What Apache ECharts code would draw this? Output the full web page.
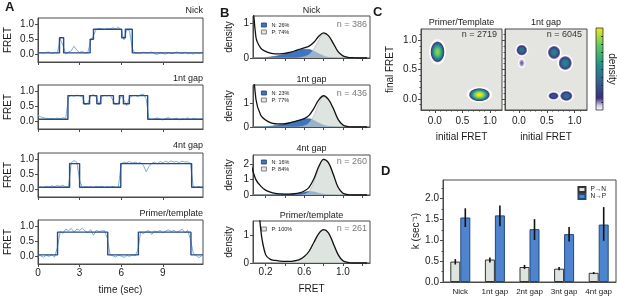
<!DOCTYPE html>
<html>
<head>
<meta charset="utf-8">
<script src="https://cdn.jsdelivr.net/npm/echarts@6/dist/echarts.min.js"></script>
<style>
  html, body { margin: 0; padding: 0; background: #fff; }
  #main { width: 617px; height: 297px; }
</style>
</head>
<body>
<div id="main"></div>
<script>
var FONT = '"Liberation Sans", Arial, sans-serif';
var FRAME = '#4a4a4a';
var INK = '#1a1a1a';

// ---- A: FRET traces ----
var traceTitles = ['Nick', '1nt gap', '4nt gap', 'Primer/template'];
var timeSec = [
  0, 0.2, 0.4, 0.6, 0.8, 1, 1.2, 1.4, 1.6, 1.8,
  2, 2.2, 2.4, 2.6, 2.8, 3, 3.2, 3.4, 3.6, 3.8,
  4, 4.2, 4.4, 4.6, 4.8, 5, 5.2, 5.4, 5.6, 5.8,
  6, 6.2, 6.4, 6.6, 6.8, 7, 7.2, 7.4, 7.6, 7.8,
  8, 8.2, 8.4, 8.6, 8.8, 9, 9.2, 9.4, 9.6, 9.8,
  10, 10.2, 10.4, 10.6, 10.8, 11, 11.2, 11.4, 11.6, 11.8
];
var rawNick = [
  0.05, 0.06, 0.04, 0.07, 0.08, 0.03, 0.06, 0.05, 0.52, 0.30,
  0.02, 0.08, 0.12, 0.27, 0.14, 0.06, 0.10, 0.04, 0.07, 0.45,
  0.62, 0.82, 0.86, 0.84, 0.82, 0.85, 0.84, 0.88, 0.83, 0.90,
  0.80, 0.48, 0.82, 0.78, 0.20, 0.03, 0.05, 0.04, 0.07, 0.05,
  0.06, 0.08, 0.02, 0.00, 0.05, 0.03, 0.01, 0.06, 0.02, 0.04,
  0.08, 0.05, 0.03, 0.07, 0.02, 0.05, 0.01, 0.06, 0.03, 0.05
];
var rawGap1 = [
  0.20, 0.15, 0.12, 0.10, 0.09, 0.10, 0.08, 0.11, 0.09, 0.12,
  0.10, 0.80, 0.86, 0.83, 0.87, 0.84, 0.82, 0.55, 0.60, 0.84,
  0.88, 0.80, 0.56, 0.82, 0.86, 0.84, 0.87, 0.70, 0.56, 0.60,
  0.86, 0.70, 0.52, 0.78, 0.84, 0.86, 0.82, 0.88, 0.90, 0.75,
  0.08, 0.06, 0.08, 0.12, 0.07, 0.05, 0.09, 0.13, 0.06, 0.08,
  0.11, 0.05, 0.09, 0.07, 0.12, 0.06, 0.10, 0.08, 0.07, 0.09
];
var rawGap4 = [
  0.05, 0.08, 0.06, 0.10, 0.07, 0.12, 0.09, 0.13, 0.10, 0.14,
  0.08, 0.10, 0.88, 0.95, 0.90, 0.30, 0.05, 0.10, 0.07, 0.09,
  0.06, 0.10, 0.08, 0.11, 0.06, 0.09, 0.07, 0.10, 0.06, 0.08,
  0.85, 0.90, 0.88, 0.92, 0.87, 0.90, 0.86, 0.89, 0.80, 0.58,
  0.75, 0.86, 0.90, 0.84, 0.92, 0.88, 0.93, 0.89, 0.94, 0.90,
  0.92, 0.88, 0.93, 0.90, 0.91, 0.85, 0.08, 0.06, 0.10, 0.05
];
var rawPT = [
  0.06, 0.02, -0.03, 0.04, 0.00, 0.05, -0.02, 0.30, 0.82, 0.76,
  0.90, 0.85, 0.92, 0.80, 0.90, 0.86, 0.93, 0.84, 0.78, 0.88,
  0.70, 0.86, 0.82, 0.84, 0.85, 0.60, 0.05, 0.02, -0.02, 0.04,
  0.01, -0.03, 0.03, 0.00, 0.05, 0.02, 0.20, 0.80, 0.75, 0.82,
  0.85, 0.72, 0.84, 0.80, 0.86, 0.78, 0.83, 0.88, 0.82, 0.86,
  0.80, 0.84, 0.90, 0.78, 0.86, 0.55, 0.10, 0.03, -0.04, 0.02
];
var rawTraces = [rawNick, rawGap1, rawGap4, rawPT];
// idealized (HMM) fit: level holds from each time to the next
var fitTimes = [
  [0, 1.55, 1.85, 3.76, 4.0, 6.04, 6.3, 6.8, 11.9],
  [0, 2.16, 3.28, 3.72, 4.24, 4.53, 5.44, 5.87, 6.16, 6.59, 7.91, 11.9],
  [0, 2.28, 3.0, 5.97, 11.08, 11.9],
  [0, 1.41, 5.03, 7.24, 11.03, 11.9]
];
var fitLevels = [
  [0.05, 0.55, 0.05, 0.5, 0.83, 0.55, 0.83, 0.05, 0.05],
  [0.07, 0.85, 0.58, 0.85, 0.58, 0.85, 0.58, 0.85, 0.58, 0.85, 0.07, 0.07],
  [0.07, 0.85, 0.07, 0.85, 0.07, 0.07],
  [0.05, 0.8, 0.05, 0.8, 0.05, 0.05]
];
var timeTicks = [0, 3, 6, 9];
var fretTicksA = [0, 0.5, 1];

// ---- B: FRET histograms ----
var histTitles = ['Nick', '1nt gap', '4nt gap', 'Primer/template'];
var histCounts = ['n = 386', 'n = 436', 'n = 260', 'n = 261'];
var fretGrid = [0.05, 0.1, 0.15, 0.2, 0.25, 0.3, 0.35, 0.4, 0.45, 0.5, 0.55, 0.6, 0.65,
  0.7, 0.75, 0.8, 0.85, 0.9, 0.95, 1, 1.05, 1.1, 1.15, 1.2, 1.25];
var histTotal = [
  [2.5, 0.6, 0.28, 0.19, 0.14, 0.12, 0.12, 0.13, 0.16, 0.2, 0.25, 0.29, 0.34, 0.45, 0.62, 0.72, 0.64, 0.42, 0.18, 0.06, 0.02, 0.01, 0, 0, 0],
  [4, 1.2, 0.5, 0.3, 0.19, 0.14, 0.13, 0.14, 0.18, 0.23, 0.29, 0.36, 0.5, 0.8, 1.16, 1.34, 1.18, 0.8, 0.33, 0.09, 0.02, 0, 0, 0, 0],
  [2.0, 1.0, 0.58, 0.32, 0.18, 0.1, 0.07, 0.06, 0.06, 0.08, 0.14, 0.26, 0.5, 1.05, 1.85, 2.32, 2.1, 1.35, 0.5, 0.12, 0.03, 0, 0, 0, 0],
  [6, 3.5, 1.2, 0.3, 0.13, 0.09, 0.07, 0.06, 0.06, 0.08, 0.12, 0.23, 0.42, 0.74, 1.05, 1.19, 1.08, 0.7, 0.3, 0.08, 0.02, 0, 0, 0, 0]
];
var histN = [
  [0, 0, 0, 0.01, 0.03, 0.05, 0.08, 0.11, 0.15, 0.19, 0.23, 0.25, 0.24, 0.19, 0.12, 0.06, 0.02, 0.005, 0, 0, 0, 0, 0, 0, 0],
  [0, 0, 0, 0.01, 0.03, 0.06, 0.1, 0.13, 0.18, 0.23, 0.29, 0.34, 0.35, 0.28, 0.17, 0.08, 0.03, 0.01, 0, 0, 0, 0, 0, 0, 0],
  [0, 0, 0, 0, 0, 0.02, 0.04, 0.05, 0.06, 0.08, 0.12, 0.18, 0.22, 0.2, 0.12, 0.05, 0.02, 0, 0, 0, 0, 0, 0, 0, 0],
  null
];
var histP = [
  [0, 0, 0, 0, 0, 0, 0, 0, 0, 0, 0.01, 0.04, 0.1, 0.26, 0.52, 0.69, 0.64, 0.42, 0.18, 0.06, 0.02, 0, 0, 0, 0],
  [0, 0, 0, 0, 0, 0, 0, 0, 0, 0, 0.01, 0.05, 0.17, 0.5, 1.0, 1.28, 1.16, 0.79, 0.33, 0.09, 0.02, 0, 0, 0, 0],
  [0, 0, 0, 0, 0, 0, 0, 0, 0, 0, 0, 0.04, 0.22, 0.85, 1.75, 2.28, 2.08, 1.34, 0.5, 0.12, 0.03, 0, 0, 0, 0],
  [0, 0, 0, 0, 0, 0, 0.01, 0.03, 0.05, 0.07, 0.11, 0.22, 0.41, 0.73, 1.04, 1.18, 1.07, 0.7, 0.3, 0.08, 0.02, 0, 0, 0, 0]
];
var histLegendN = ['N: 26%', 'N: 23%', 'N: 16%', null];
var histLegendP = ['P: 74%', 'P: 77%', 'P: 84%', 'P: 100%'];
var densityMax = [1.2, 1.8, 2.6, 1.5];
var densityTicks = [[0, 1], [0, 1], [0, 1, 2], [0, 1]];
var fretTicksB = [0.2, 0.4, 0.6, 0.8, 1.0, 1.2];
var fretLabelsB = [0.2, 0.6, 1.0];

// ---- C: transition density plots (blob centre x, y, peak density) ----
var tdpTitles = ['Primer/Template', '1nt gap'];
var tdpCounts = ['n = 2719', 'n = 6045'];
var ptBlobs = [[0.05, 0.80, 0.85], [0.81, 0.07, 1.0]];
var gapBlobs = [[0.05, 0.83, 0.42], [0.05, 0.61, 0.12], [0.63, 0.79, 0.48],
  [0.83, 0.61, 0.5], [0.62, 0.05, 0.3], [0.85, 0.05, 0.42]];
var tdpTicks = [0, 0.5, 1];
var tdpMinorTicks = [-0.1, 0.1, 0.2, 0.3, 0.4, 0.6, 0.7, 0.8, 0.9, 1.1];
var colorbarTicks = [0.1, 0.2, 0.3, 0.4, 0.5, 0.6, 0.7, 0.8, 0.9];

// ---- D: rates ----
var rateCats = ['Nick', '1nt gap', '2nt gap', '3nt gap', '4nt gap'];
var ratePN = [0.49, 0.54, 0.36, 0.32, 0.22];
var rateNP = [1.55, 1.60, 1.27, 1.15, 1.38];
var errPN = [[0.42, 0.55], [0.47, 0.59], [0.31, 0.41], [0.28, 0.36], [0.19, 0.24]];
var errNP = [[1.32, 1.77], [1.34, 1.84], [1.01, 1.51], [0.97, 1.32], [0.99, 1.80]];
var rateTicks = [0, 0.5, 1, 1.5, 2];
var rateMinorTicks = [0.25, 0.75, 1.25, 1.75, 2.25];

// layout / styling
var aTops = [18, 85, 153, 220];
var bTops = [16, 85, 155, 221];
var bHeights = [42, 42, 40, 42];
var ptShapes = [[18, 27], [27, 17]];
var gapShapes = [[14, 14], [8, 11], [16, 17], [17, 18], [14, 10], [16, 13]];
var densityColors = [[0, '#ffffff'], [0.06, '#cfc9e4'], [0.15, '#3b2d7f'], [0.35, '#33638d'],
  [0.55, '#21918c'], [0.78, '#5ec962'], [1, '#f4e61e']];

function fmt1(v) { return (+v).toFixed(1); }
function fmtInt(v) { return String(Math.round(v)); }
function zip(xs, ys) { return ys.map(function (y, i) { return [xs[i], y]; }); }

function rgb(h) {
  return [parseInt(h.substr(1, 2), 16), parseInt(h.substr(3, 2), 16), parseInt(h.substr(5, 2), 16)];
}
function densityColor(v) {
  v = Math.max(0, Math.min(1, v));
  for (var k = 1; k < densityColors.length; k++) {
    var a = densityColors[k - 1], b = densityColors[k];
    if (v <= b[0]) {
      var t = (v - a[0]) / (b[0] - a[0]), ca = rgb(a[1]), cb = rgb(b[1]);
      return 'rgb(' + ca.map(function (c, j) { return Math.round(c + (cb[j] - c) * t); }).join(',') + ')';
    }
  }
  return densityColors[densityColors.length - 1][1];
}
function blobFill(peak) {
  var stops = [];
  for (var k = 0; k <= 8; k++) {
    var r = k / 8;
    stops.push({ offset: r * 0.8, color: densityColor(peak * (1 - r * r)) });
  }
  stops.push({ offset: 0.9, color: 'rgba(255,255,255,0.75)' });
  stops.push({ offset: 1, color: 'rgba(255,255,255,0)' });
  return { type: 'radial', x: 0.5, y: 0.5, r: 0.5, colorStops: stops };
}

function boxGrid(g) {
  g.show = true;
  g.borderColor = FRAME;
  g.borderWidth = 1;
  g.containLabel = false;
  return g;
}
function valueAxis(g, min, max, ticks, labels, name, gap, fmt) {
  return {
    type: 'value', gridIndex: g, min: min, max: max,
    splitLine: { show: false },
    axisLine: { show: true, onZero: false, lineStyle: { color: FRAME, width: 1 } },
    axisTick: { show: true, customValues: ticks, length: 3, lineStyle: { color: FRAME } },
    axisLabel: labels ? { show: true, customValues: labels, formatter: fmt, fontSize: 10, color: INK, margin: 4 }
                      : { show: false },
    name: name, nameLocation: 'middle', nameGap: gap,
    nameTextStyle: { fontSize: 10, color: INK }
  };
}
function minorAxis(g, min, max, ticks, pos) {
  return {
    type: 'value', gridIndex: g, min: min, max: max, position: pos,
    splitLine: { show: false }, axisLine: { show: false, onZero: false },
    axisTick: { show: true, customValues: ticks, length: 1.5, lineStyle: { color: FRAME } },
    axisLabel: { show: false }
  };
}
function txt(x, y, s, size, align, extra) {
  var el = {
    type: 'text', x: x, y: y, silent: true,
    style: { text: s, font: size + 'px ' + FONT, fill: INK, align: align, verticalAlign: 'middle' }
  };
  for (var k in (extra || {})) el.style[k] = extra[k];
  return el;
}

var grids = [], xAxes = [], yAxes = [], series = [], legends = [], graphics = [];

// panel A
for (var i = 0; i < 4; i++) {
  grids.push(boxGrid({ left: 38, width: 165, top: aTops[i], height: 44 }));
  xAxes.push(valueAxis(i, 0, 11.9, timeTicks, i === 3 ? timeTicks : null, i === 3 ? 'time (sec)' : '', 21, fmtInt));
  yAxes.push(valueAxis(i, -0.25, 1.2, fretTicksA, fretTicksA, 'FRET', 25, fmt1));
  series.push({
    type: 'line', xAxisIndex: i, yAxisIndex: i, symbol: 'none', silent: true,
    data: zip(timeSec, rawTraces[i]),
    lineStyle: { color: '#6fa3dc', width: 0.9 }
  });
  series.push({
    type: 'line', xAxisIndex: i, yAxisIndex: i, symbol: 'none', silent: true, step: 'end',
    data: zip(fitTimes[i], fitLevels[i]),
    lineStyle: { color: '#2a4b80', width: 1.4 }, z: 3
  });
  graphics.push(txt(203, [11, 79, 146, 214][i], traceTitles[i], 9, 'right'));
}

// panel B
for (i = 0; i < 4; i++) {
  var g = 4 + i;
  grids.push(boxGrid({ left: 253, width: 117, top: bTops[i], height: bHeights[i] }));
  xAxes.push(valueAxis(g, 0.07, 1.28, fretTicksB, i === 3 ? fretLabelsB : null, i === 3 ? 'FRET' : '', 21, fmt1));
  yAxes.push(valueAxis(g, 0, densityMax[i], densityTicks[i], densityTicks[i], 'density', 19, fmtInt));
  var legendData = [];
  if (histN[i]) {
    series.push({
      type: 'line', name: histLegendN[i], xAxisIndex: g, yAxisIndex: g, symbol: 'none', silent: true,
      smooth: 0.4, data: zip(fretGrid, histN[i]),
      itemStyle: { color: '#3f74bf' },
      lineStyle: { color: '#2f5f9e', width: 0.6 },
      areaStyle: { color: '#3f74bf', opacity: 1 }, z: 2
    });
    legendData.push({ name: histLegendN[i], icon: 'rect',
      itemStyle: { color: '#3f74bf', borderColor: '#1f3e70', borderWidth: 0.8 } });
  }
  series.push({
    type: 'line', name: histLegendP[i], xAxisIndex: g, yAxisIndex: g, symbol: 'none', silent: true,
    smooth: 0.4, data: zip(fretGrid, histP[i]),
    itemStyle: { color: '#ccd6cf' },
    lineStyle: { color: '#a9b6ad', width: 0.6 },
    areaStyle: { color: '#ccd6cf', opacity: 0.65 }, z: 3
  });
  legendData.push({ name: histLegendP[i], icon: 'rect',
    itemStyle: { color: '#e3e8e3', borderColor: '#666', borderWidth: 0.8 } });
  series.push({
    type: 'line', xAxisIndex: g, yAxisIndex: g, symbol: 'none', silent: true,
    smooth: 0.35, data: zip(fretGrid, histTotal[i]),
    lineStyle: { color: '#111', width: 1.3 }, z: 4
  });
  legends.push({
    orient: 'vertical', left: 261, top: [22, 90, 159, 226][i], padding: 0,
    itemWidth: 5, itemHeight: 4, itemGap: 1, selectedMode: false,
    textStyle: { fontSize: 5.5, color: INK, fontFamily: FONT },
    data: legendData
  });
  graphics.push(txt(311.5, [11, 80, 149, 216][i], histTitles[i], 9, 'center'));
  graphics.push(txt(367, [25, 94, 162, 229][i], histCounts[i], 9, 'right', { fill: '#7a7a7a' }));
}

// panel C
var cLefts = [421, 505], cWidths = [81, 82], cBlobs = [ptBlobs, gapBlobs], cShapes = [ptShapes, gapShapes];
for (i = 0; i < 2; i++) {
  g = 8 + i;
  grids.push(boxGrid({ left: cLefts[i], width: cWidths[i], top: 29, height: 81, backgroundColor: '#e4e4e0' }));
  var xa = valueAxis(g, -0.25, 1.22, tdpTicks, tdpTicks, 'initial FRET', 22, fmt1);
  xa.axisLabel.margin = 6;
  xAxes.push(xa);
  yAxes.push(valueAxis(g, -0.19, 1.19, tdpTicks, i === 0 ? tdpTicks : null, i === 0 ? 'final FRET' : '', 26, fmt1));
  (function (shapes) {
    series.push({
      type: 'custom', xAxisIndex: g, yAxisIndex: g, clip: true, silent: true,
      data: cBlobs[i],
      renderItem: function (params, api) {
        var c = api.coord([api.value(0), api.value(1)]);
        var s = shapes[params.dataIndex];
        return {
          type: 'circle', x: c[0], y: c[1], scaleX: s[0] / s[1], scaleY: 1,
          shape: { cx: 0, cy: 0, r: s[1] / 2 },
          style: { fill: blobFill(api.value(2)) }
        };
      }
    });
  })(cShapes[i]);
  graphics.push(txt(cLefts[i] + cWidths[i] / 2, 23, tdpTitles[i], 9, 'center'));
  graphics.push(txt(cLefts[i] + cWidths[i] - 5, 35, tdpCounts[i], 9, 'right', { fill: '#333' }));
}

// colorbar (grid 10)
grids.push({ left: 596, width: 7, top: 28, height: 82, show: false });
xAxes.push({ type: 'value', gridIndex: 10, show: false, min: 0, max: 1 });
yAxes.push({
  type: 'value', gridIndex: 10, position: 'right', min: 0, max: 1,
  splitLine: { show: false }, axisLine: { show: false, onZero: false }, axisLabel: { show: false },
  axisTick: { show: true, inside: true, length: 2, customValues: colorbarTicks, lineStyle: { color: '#333' } }
});
series.push({ type: 'line', xAxisIndex: 10, yAxisIndex: 10, data: [], silent: true });
graphics.push({
  type: 'rect', silent: true, z: -1,
  shape: { x: 596, y: 28, width: 7, height: 82 },
  style: {
    fill: { type: 'linear', x: 0, y: 1, x2: 0, y2: 0,
      colorStops: densityColors.map(function (d) { return { offset: d[0], color: d[1] }; }) },
    stroke: '#333', lineWidth: 0.8
  }
});
graphics.push({
  type: 'text', x: 612, y: 69, rotation: -Math.PI / 2, silent: true,
  style: { text: 'density', font: '10px ' + FONT, fill: INK, align: 'center', verticalAlign: 'middle' }
});

// panel D (grid 11)
grids.push(boxGrid({ left: 443, width: 173, top: 180, height: 102 }));
xAxes.push({
  type: 'category', gridIndex: 11, data: rateCats,
  axisLine: { onZero: false, lineStyle: { color: FRAME } },
  axisTick: { show: false },
  axisLabel: { fontSize: 8, color: INK, margin: 6, interval: 0 }
});
yAxes.push(valueAxis(11, 0, 2.45, rateTicks, rateTicks, 'k (sec\u207B\u00B9)', 22, fmt1));
series.push({
  type: 'bar', name: 'P\u2192N', xAxisIndex: 11, yAxisIndex: 11, data: ratePN, silent: true,
  barWidth: 10, barGap: '0%',
  itemStyle: { color: '#dde4dd', borderColor: '#333', borderWidth: 1 }
});
series.push({
  type: 'bar', name: 'N\u2192P', xAxisIndex: 11, yAxisIndex: 11, data: rateNP, silent: true,
  barWidth: 10, barGap: '0%',
  itemStyle: { color: '#4d84cd', borderColor: '#24487d', borderWidth: 1 }
});
[[errPN, -5], [errNP, 5]].forEach(function (pair) {
  series.push({
    type: 'custom', xAxisIndex: 11, yAxisIndex: 11, silent: true, z: 5,
    data: pair[0].map(function (e, k) { return [k, e[0], e[1]]; }),
    renderItem: function (params, api) {
      var lo = api.coord([api.value(0), api.value(1)]);
      var hi = api.coord([api.value(0), api.value(2)]);
      return {
        type: 'line',
        shape: { x1: lo[0] + pair[1], y1: lo[1], x2: hi[0] + pair[1], y2: hi[1] },
        style: { stroke: '#111', lineWidth: 1.6 }
      };
    }
  });
});
legends.push({
  orient: 'vertical', right: 11, top: 186, padding: 0,
  itemWidth: 7, itemHeight: 5, itemGap: 0, selectedMode: false,
  textStyle: { fontSize: 6.5, color: INK, fontFamily: FONT },
  data: [{ name: 'P\u2192N', icon: 'rect' }, { name: 'N\u2192P', icon: 'rect' }]
});

// minor tick axes (C and D)
xAxes.push(minorAxis(8, -0.25, 1.22, tdpMinorTicks, 'bottom'));
xAxes.push(minorAxis(9, -0.25, 1.22, tdpMinorTicks, 'bottom'));
yAxes.push(minorAxis(8, -0.19, 1.19, tdpMinorTicks, 'left'));
yAxes.push(minorAxis(9, -0.19, 1.19, tdpMinorTicks, 'left'));
yAxes.push(minorAxis(11, 0, 2.45, rateMinorTicks, 'left'));

// panel letters
graphics.push(txt(5, 7, 'A', 13, 'left', { font: 'bold 13px ' + FONT }));
graphics.push(txt(220, 13, 'B', 13, 'left', { font: 'bold 13px ' + FONT }));
graphics.push(txt(373, 12, 'C', 13, 'left', { font: 'bold 13px ' + FONT }));
graphics.push(txt(381, 171, 'D', 13, 'left', { font: 'bold 13px ' + FONT }));

var chart = echarts.init(document.getElementById('main'), null, { renderer: 'canvas' });
chart.setOption({
  animation: false,
  backgroundColor: '#ffffff',
  textStyle: { fontFamily: FONT },
  grid: grids,
  xAxis: xAxes,
  yAxis: yAxes,
  legend: legends,
  series: series,
  graphic: graphics
});
</script>
</body>
</html>
